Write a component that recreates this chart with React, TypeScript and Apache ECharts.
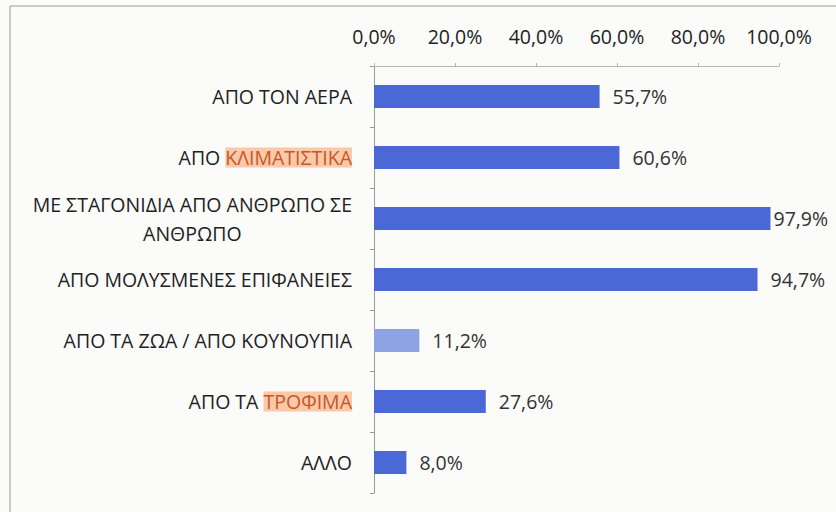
import React, { useEffect, useRef } from "react";
import * as echarts from "echarts";

const categories = [
  "ΑΠΟ ΤΟΝ ΑΕΡΑ",
  "ΑΠΟ {h|ΚΛΙΜΑΤΙΣΤΙΚΑ}",
  "{c|ΜΕ ΣΤΑΓΟΝΙΔΙΑ ΑΠΟ ΑΝΘΡΩΠΟ ΣΕ}\n{c|ΑΝΘΡΩΠΟ}",
  "ΑΠΟ ΜΟΛΥΣΜΕΝΕΣ ΕΠΙΦΑΝΕΙΕΣ",
  "ΑΠΟ ΤΑ ΖΩΑ / ΑΠΟ ΚΟΥΝΟΥΠΙΑ",
  "ΑΠΟ ΤΑ {h|ΤΡΟΦΙΜΑ}",
  "ΑΛΛΟ",
];
const values = [55.7, 60.6, 97.9, 94.7, 11.2, 27.6, 8.0];
const barColors = ["#4a69d6", "#4a69d6", "#4a69d6", "#4a69d6", "#8ea3e3", "#4a69d6", "#4a69d6"];
const labelGaps = [13, 13, 3, 13, 13, 13, 13];

const FONT = "'Open Sans', 'Noto Sans', sans-serif";
const FS = 19.5;
const fmt = (v: number) => v.toFixed(1).replace(".", ",") + "%";

export default function App() {
  const ref = useRef<HTMLDivElement>(null);
  useEffect(() => {
    if (!ref.current) return;
    const chart = echarts.init(ref.current, undefined, { renderer: "svg" });
    chart.setOption({
      animation: false,
      backgroundColor: "#fbfbfa",
      textStyle: { fontFamily: FONT },
      graphic: [
        {
          type: "rect",
          shape: { x: 10, y: 6, width: 900, height: 600 },
          style: { fill: "none", stroke: "#9a9a9a", lineWidth: 1 },
          silent: true,
        },
      ],
      grid: { left: 374, right: 57, top: 66, bottom: 19 },
      xAxis: {
        type: "value",
        position: "top",
        min: 0,
        max: 100,
        interval: 20,
        axisLine: { show: true, lineStyle: { color: "#b5b5b5", width: 1 } },
        axisTick: { show: true, length: 3, lineStyle: { color: "#b5b5b5" } },
        splitLine: { show: false },
        axisLabel: {
          formatter: (v: number) => fmt(v),
          color: "#222",
          fontSize: FS,
          fontFamily: FONT,
          margin: 20,
        },
      },
      yAxis: {
        type: "category",
        inverse: true,
        data: categories,
        axisLine: { show: true, lineStyle: { color: "#9a9a9a", width: 1 } },
        axisTick: { show: true, length: 4, lineStyle: { color: "#9a9a9a" } },
        axisLabel: {
          color: "#222",
          fontSize: FS,
          fontFamily: FONT,
          margin: 22,
          lineHeight: 29,
          rich: {
            h: {
              color: "#c4582a",
              backgroundColor: "#fbc8a8",
              fontSize: FS,
              fontFamily: FONT,
            },
            c: {
              align: "center",
              color: "#222",
              fontSize: FS,
              fontFamily: FONT,
              lineHeight: 29,
            },
          },
        },
      },
      series: [
        {
          type: "bar",
          data: values.map((v, i) => ({
            value: v,
            itemStyle: { color: barColors[i] },
            label: { distance: labelGaps[i] },
          })),
          barWidth: 23,
          label: {
            show: true,
            position: "right",
            distance: 13,
            formatter: (p: any) => fmt(p.value),
            color: "#333",
            fontSize: FS,
            fontFamily: FONT,
          },
        },
      ],
    });
    return () => chart.dispose();
  }, []);
  return (
    <div
      ref={ref}
      style={{ position: "fixed", left: 0, top: 0, width: 836, height: 512 }}
    />
  );
}
